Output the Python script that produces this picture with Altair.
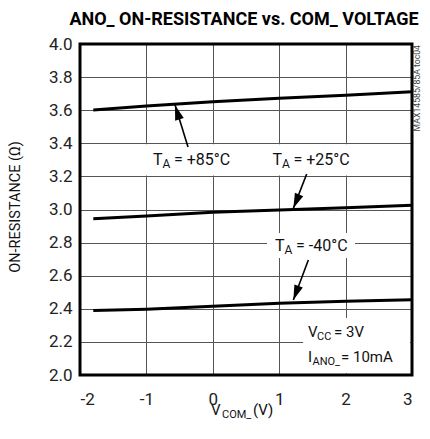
import altair as alt
import pandas as pd

# ---- data ----
vcom = [-1.8, -1.0, 0.0, 1.0, 2.0, 3.0]
r_85 = [3.601, 3.625, 3.651, 3.672, 3.690, 3.712]
r_25 = [2.944, 2.961, 2.983, 2.997, 3.011, 3.025]
r_m40 = [2.389, 2.397, 2.415, 2.433, 2.445, 2.455]
x_ticks = [-2, -1, 0, 1, 2, 3]
y_ticks = [2.0, 2.2, 2.4, 2.6, 2.8, 3.0, 3.2, 3.4, 3.6, 3.8, 4.0]

FONT = "Roboto, Liberation Sans, sans-serif"
W, H = 332, 331

rows = []
for name, vals in [("85", r_85), ("25", r_25), ("-40", r_m40)]:
    for xv, yv in zip(vcom, vals):
        rows.append({"x": xv, "y": yv, "t": name})
df = pd.DataFrame(rows)

xs = alt.Scale(domain=[-2, 3], nice=False, zero=False)
ys = alt.Scale(domain=[2.0, 4.0], nice=False, zero=False)

XAX = alt.Axis(values=x_ticks, title=None, grid=True, gridColor="#555", gridWidth=1, ticks=False,
               domain=False, labelFont=FONT, labelFontSize=17, labelColor="#222", labelPadding=16,
               labelOverlap=False, labelExpr="datum.value")
YAX = alt.Axis(values=y_ticks, title=None, grid=True, gridColor="#555", gridWidth=1, ticks=False,
               domain=False, labelFont=FONT, labelFontSize=17, labelColor="#222", labelPadding=8,
               labelOverlap=False, format=".1f")


def X(f="x"):
    return alt.X(f"{f}:Q", scale=xs, axis=XAX)


def Y(f="y"):
    return alt.Y(f"{f}:Q", scale=ys, axis=YAX)


# white masks
masks = pd.DataFrame({
    "x": [-2.0, 0.816, 1.36],
    "x1": [3.0, 2.142, 2.97],
    "y": [3.205, 2.707, 2.01],
    "y1": [3.395, 2.858, 2.344],
})
mask_layer = alt.Chart(masks).mark_rect(color="white").encode(x=X(), x2="x1:Q", y=Y(), y2="y1:Q")

lines = alt.Chart(df).mark_line(color="black", strokeWidth=3).encode(x=X(), y=Y(), detail="t:N")

# arrows
arrows = pd.DataFrame({
    "x": [-0.373, 1.414, 1.439],
    "y": [3.378, 3.2145, 2.695],
    "x1": [-0.569, 1.213, 1.213],
    "y1": [3.631, 3.007, 2.453],
    "ang": [342.8, 202.4, 200.6],
})
shafts = alt.Chart(arrows).mark_rule(color="black", strokeWidth=1.6).encode(
    x=X(), y=Y(), x2="x1:Q", y2="y1:Q")
heads = alt.Chart(arrows).mark_point(
    shape="M0,0 L0.3,1 L-0.3,1 Z", filled=True, color="black", size=900, opacity=1
).encode(x=X("x1"), y=Y("y1"), angle=alt.Angle("ang:Q", scale=None))

frame = alt.Chart(pd.DataFrame({"x": [-2], "x1": [3], "y": [2.0], "y1": [4.0]})).mark_rect(
    fill=None, stroke="black", strokeWidth=3).encode(x=X(), x2="x1:Q", y=Y(), y2="y1:Q")


def dtext(x, y, pieces):
    """pieces: list of (text, dx, dy, size)"""
    layers = []
    for txt, dx, dy, size in pieces:
        layers.append(alt.Chart(pd.DataFrame({"x": [x], "y": [y], "s": [txt]})).mark_text(
            align="left", baseline="alphabetic", font=FONT, fontSize=size, dx=dx, dy=dy,
            color="#111").encode(x=X(), y=Y(), text="s:N"))
    return layers


labels = []
labels += dtext(-0.901, 3.269, [("T", 0, 0, 16), ("A", 9.5, 3, 12), ("= +85°C", 21, 0, 16)])
labels += dtext(0.899, 3.269, [("T", 0, 0, 16), ("A", 9.5, 3, 12), ("= +25°C", 21, 0, 16)])
labels += dtext(0.937, 2.752, [("T", 0, 0, 16), ("A", 9.5, 3, 12), ("= -40°C", 21, 0, 16)])
labels += dtext(1.434, 2.231, [("V", 0, 0, 15), ("CC", 9, 3, 11), ("= 3V", 26, 0, 15)])
labels += dtext(1.434, 2.080, [("I", 0, 0, 15), ("ANO_", 4.5, 3, 11), ("= 10mA", 33, 0, 15)])


def ptext(px, py, txt, size, align="left", angle=0, weight="normal", color="#111",
          baseline="alphabetic"):
    kw = dict(align=align, baseline=baseline, font=FONT, fontSize=size, fontWeight=weight,
              color=color, text=txt)
    if angle:
        kw["angle"] = angle
    return alt.Chart(pd.DataFrame({"a": [0]})).mark_text(**kw).encode(
        x=alt.value(px), y=alt.value(py))


extra = [
    ptext(164, -19, "ANO_ ON-RESISTANCE vs. COM_ VOLTAGE", 18, align="center", weight="bold",
          color="black"),
    ptext(131, 371, "V", 15),
    ptext(142, 374, "COM_", 11),
    ptext(173, 371, "(V)", 15),
    ptext(-64, 163, "ON-RESISTANCE (Ω)", 14.5, align="center", angle=270, baseline="middle"),
    ptext(337, 1, "MAX14585/85A toc04", 8.7, align="right", angle=270, baseline="middle",
          color="#444"),
]

chart = alt.layer(mask_layer, lines, shafts, heads, frame, *labels, *extra).properties(
    width=W, height=H,
    autosize=alt.AutoSizeParams(type="none"),
    padding={"left": 72, "top": 36, "right": 10, "bottom": 46},
).configure_view(stroke=None)

chart.save("out.html", embed_options={"renderer": "svg", "actions": False})
